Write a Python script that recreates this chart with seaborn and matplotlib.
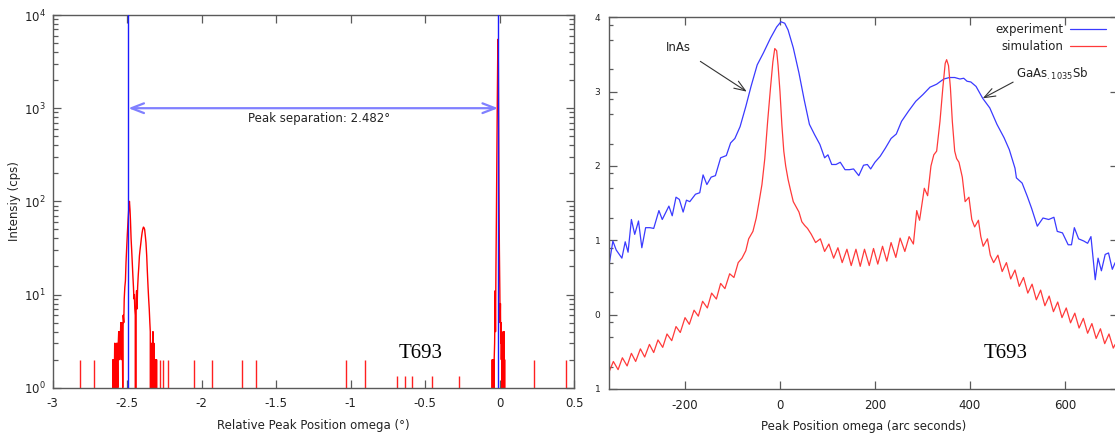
import matplotlib
matplotlib.use("Agg")
import matplotlib.pyplot as plt
import numpy as np
import pandas as pd
import seaborn as sns
from matplotlib.ticker import FixedLocator, FixedFormatter, LogLocator, NullFormatter, LogFormatterMathtext

# ---------------- left panel: omega scan, relative to the substrate peak ----------------
# layer / buffer peaks around -2.5 degrees (cps; 0 = no counts)
layer_deg = [-2.600, -2.596, -2.593, -2.590, -2.587, -2.584, -2.580, -2.577, -2.574, -2.570,
             -2.567, -2.563, -2.560, -2.557, -2.553, -2.550, -2.547, -2.543, -2.540, -2.537,
             -2.533, -2.530, -2.527, -2.523, -2.520, -2.516, -2.512, -2.508, -2.503, -2.499,
             -2.494, -2.489, -2.485, -2.481, -2.478, -2.474, -2.470, -2.466, -2.462, -2.458,
             -2.455, -2.452, -2.449, -2.446, -2.443, -2.440, -2.437, -2.434, -2.430, -2.426,
             -2.422, -2.418, -2.414, -2.409, -2.405, -2.400, -2.396, -2.391, -2.387, -2.383,
             -2.378, -2.374, -2.369, -2.365, -2.360, -2.356, -2.352, -2.348, -2.345, -2.342,
             -2.339, -2.336, -2.333, -2.330, -2.327, -2.324, -2.321, -2.318, -2.315, -2.312,
             -2.309, -2.306, -2.303, -2.300]
layer_cps = [0, 2, 0, 2, 1, 3, 0, 2, 3, 0,
             3, 1, 3, 4, 2, 4, 3, 5, 2, 5,
             4, 1, 6, 5, 9, 12, 14, 22, 33, 45,
             64, 85, 100, 80, 62, 40, 30, 22, 16, 12,
             9, 10, 7, 6, 0, 9, 11, 7, 12, 16,
             20, 26, 30, 35, 40, 46, 50, 53, 52, 50,
             42, 36, 26, 18, 12, 9, 7, 5, 4, 0,
             3, 2, 0, 3, 4, 0, 3, 1, 2, 0,
             2, 0, 2, 0]

# substrate peak near 0 degrees
substrate_deg = [-0.052, -0.049, -0.047, -0.045, -0.043, -0.041, -0.038, -0.036, -0.033, -0.031,
                 -0.029, -0.027, -0.024, -0.021, -0.018, -0.015, -0.012, -0.010, -0.008, -0.006,
                 -0.004, -0.001, 0.002, 0.004, 0.006, 0.008, 0.010, 0.012, 0.014, 0.016,
                 0.018, 0.020, 0.022, 0.024, 0.026, 0.028, 0.030, 0.032, 0.034, 0.036]
substrate_cps = [0, 2, 0, 2, 1, 2, 0, 2, 3, 6,
                 11, 4, 20, 70, 300, 1200, 4000, 5500, 3000, 800,
                 150, 30, 11, 5, 8, 3, 5, 2, 4, 1,
                 3, 0, 2, 0, 4, 1, 4, 0, 2, 0]

# isolated single-count background spikes
stray_deg = [-2.815, -2.725, -2.282, -2.262, -2.224, -2.049, -1.928, -1.728, -1.638,
             -1.029, -0.905, -0.690, -0.636, -0.587, -0.451, -0.271, 0.231, 0.449]
stray_cps = [2, 2, 2, 2, 2, 2, 2, 2, 2,
             2, 2, 1.35, 1.35, 1.35, 1.35, 1.35, 2, 2]

layer_peak_pos = -2.492
peak_separation = 2.482
left_xticks = [-3, -2.5, -2, -1.5, -1, -0.5, 0, 0.5]

# ---------------- right panel: log10 intensity, experiment vs simulation ----------------
exp_arcsec = [-360, -352, -345, -333, -326, -320, -313, -306, -298, -291, -283, -274, -266,
              -255, -248, -234, -227, -219, -212, -204, -197, -190, -178, -169, -162, -154,
              -145, -136, -125, -113, -104, -95, -84, -72, -61, -48, -35, -20, -7, 2, 10, 17,
              28, 40, 51, 62, 73, 84, 94, 101, 109, 118, 127, 137, 146, 155, 166, 176, 184,
              191, 200, 211, 222, 234, 245, 256, 271, 286, 301, 316, 330, 345, 357, 368, 379,
              387, 394, 402, 413, 427, 442, 457, 472, 483, 495, 498, 510, 521, 530, 542, 554,
              566, 577, 584, 595, 607, 614, 620, 629, 640, 648, 655, 664, 670, 677, 685, 692,
              700, 706]
exp_log = [0.67, 0.99, 0.87, 0.76, 0.98, 0.84, 1.28, 1.08, 1.26, 0.90, 1.17, 1.17, 1.16,
           1.40, 1.28, 1.46, 1.33, 1.58, 1.55, 1.38, 1.54, 1.52, 1.62, 1.64, 1.88, 1.75,
           1.85, 1.87, 2.11, 2.14, 2.31, 2.37, 2.53, 2.80, 3.07, 3.36, 3.52, 3.72, 3.87, 3.94,
           3.92, 3.83, 3.59, 3.25, 2.89, 2.56, 2.42, 2.29, 2.11, 2.15, 2.02, 2.02, 2.05, 1.95,
           1.95, 1.96, 1.87, 2.01, 2.02, 1.96, 2.05, 2.13, 2.24, 2.37, 2.43, 2.60, 2.74, 2.87,
           2.96, 3.06, 3.10, 3.17, 3.19, 3.19, 3.17, 3.18, 3.14, 3.13, 3.07, 2.91, 2.78, 2.56,
           2.38, 2.22, 1.97, 1.84, 1.77, 1.59, 1.43, 1.19, 1.30, 1.28, 1.31, 1.12, 1.10, 0.94,
           0.94, 1.17, 1.02, 0.99, 0.96, 1.05, 0.47, 0.76, 0.59, 0.81, 0.83, 0.61, 0.70]

sim_arcsec = [-360, -351, -341, -332, -322, -313, -304, -294, -285, -275, -266, -257, -247,
              -238, -228, -219, -210, -200, -191, -181, -172, -163, -153, -144, -134, -125,
              -116, -106, -97, -88, -80, -72, -66, -57, -50, -44, -38, -32, -26, -20, -15,
              -11, -7, -4, 0, 4, 8, 12, 17, 22, 28, 34, 40, 46, 52, 58, 66, 75, 85, 94, 103,
              113, 122, 131, 141, 150, 160, 169, 178, 188, 197, 206, 216, 225, 234, 244, 253,
              263, 272, 281, 288, 294, 304, 311, 318, 324, 330, 337, 343, 348, 351, 355, 359,
              363, 368, 372, 377, 384, 390, 398, 404, 410, 418, 423, 428, 437, 443, 450, 459,
              468, 477, 486, 495, 504, 513, 522, 531, 540, 549, 558, 567, 576, 585, 594, 603,
              612, 621, 630, 639, 648, 657, 666, 675, 684, 693, 702, 706]
sim_log = [-0.77, -0.63, -0.74, -0.58, -0.69, -0.52, -0.63, -0.46, -0.57, -0.40, -0.51, -0.34,
           -0.44, -0.26, -0.35, -0.16, -0.24, -0.04, -0.13, 0.06, -0.02, 0.18, 0.09, 0.29, 0.21,
           0.42, 0.35, 0.55, 0.50, 0.70, 0.76, 0.86, 1.02, 1.12, 1.30, 1.52, 1.75, 2.10, 2.60,
           3.05, 3.40, 3.58, 3.55, 3.35, 3.00, 2.55, 2.20, 2.00, 1.82, 1.68, 1.52, 1.45, 1.38,
           1.25, 1.20, 1.16, 1.08, 0.97, 1.02, 0.85, 0.95, 0.76, 0.90, 0.70, 0.88, 0.66, 0.88,
           0.65, 0.88, 0.66, 0.89, 0.68, 0.92, 0.72, 0.97, 0.77, 1.03, 0.85, 1.05, 0.95, 1.40,
           1.27, 1.70, 1.60, 2.00, 2.15, 2.20, 2.60, 3.05, 3.38, 3.43, 3.35, 3.05, 2.60, 2.20,
           2.10, 2.05, 1.85, 1.52, 1.58, 1.28, 1.18, 1.27, 1.05, 0.92, 1.02, 0.80, 0.70, 0.80,
           0.58, 0.70, 0.48, 0.60, 0.38, 0.50, 0.29, 0.41, 0.20, 0.33, 0.12, 0.25, 0.04, 0.17,
           -0.04, 0.09, -0.11, 0.02, -0.18, -0.05, -0.25, -0.12, -0.32, -0.19, -0.39, -0.26,
           -0.45, -0.40]

right_yticks = [-1, 0, 1, 2, 3, 4]
right_yticklabels = ["1", "0", "1", "2", "3", "4"]
right_yminor = [-0.7, -0.3, -0.1, 0.3, 0.7, 0.9, 1.3, 1.7, 1.9, 2.3, 2.7, 2.9, 3.3, 3.7, 3.9]
right_xticks = [-200, 0, 200, 400, 600]
series_names = ["experiment", "simulation"]

# ---------------- styling ----------------
sns.set_theme(style="ticks")
plt.rcParams["font.family"] = ["DejaVu Sans"]
plt.rcParams["axes.unicode_minus"] = False
plt.rcParams["mathtext.default"] = "regular"

frame_col = "#5a5a5a"
text_col = "#222222"

fig = plt.figure(figsize=(11.15, 4.38), dpi=100)
axL = fig.add_axes([0.0473, 0.1148, 0.4675, 0.8509])
axR = fig.add_axes([0.5460, 0.1119, 0.4567, 0.8486])
for ax in (axL, axR):
    ax.set_facecolor("white")
    for s in ax.spines.values():
        s.set_color(frame_col)
        s.set_linewidth(1.0)
    ax.tick_params(which="both", direction="in", color=frame_col, labelcolor=text_col,
                   top=True, right=True, width=0.9)

# ----- left panel -----
df_layer = pd.DataFrame({"deg": layer_deg, "cps": layer_cps})
df_sub = pd.DataFrame({"deg": substrate_deg, "cps": substrate_cps})
sns.lineplot(data=df_layer, x="deg", y="cps", sort=False, estimator=None,
             color="#ff0000", lw=1.0, ax=axL)
sns.lineplot(data=df_sub, x="deg", y="cps", sort=False, estimator=None,
             color="#ff0000", lw=1.0, ax=axL)
axL.vlines(stray_deg, 1, stray_cps, color="#ff2020", lw=1.0)
axL.set_yscale("log", nonpositive="clip")
axL.set_xlim(-3, 0.5)
axL.set_ylim(1, 1e4)

peak_right_pos = layer_peak_pos + peak_separation
axL.axvline(layer_peak_pos, color="#1a1aff", lw=1.0, zorder=3)
axL.axvline(peak_right_pos, color="#1a1aff", lw=1.0, zorder=3)
axL.annotate("", xy=(peak_right_pos, 1000), xytext=(layer_peak_pos, 1000),
             arrowprops=dict(arrowstyle="<->,head_length=0.9,head_width=0.35",
                             color="#8080ff", lw=1.6, shrinkA=0, shrinkB=0,
                             mutation_scale=10), zorder=4)
axL.text((layer_peak_pos + peak_right_pos) / 2 + 0.04, 770,
         f"Peak separation: {peak_separation:.3f}°",
         ha="center", va="center", fontsize=8.5, color=text_col)
axL.text(-0.527, 2.35, "T693", family=["Liberation Serif"], fontsize=15,
         ha="center", va="center", color="black")

axL.set_xticks(left_xticks)
axL.set_xticklabels([f"{t:g}" for t in left_xticks])
axL.yaxis.set_major_locator(LogLocator(base=10, numticks=10))
axL.yaxis.set_major_formatter(LogFormatterMathtext())
axL.yaxis.set_minor_locator(LogLocator(base=10, subs=np.arange(2, 10), numticks=10))
axL.yaxis.set_minor_formatter(NullFormatter())
axL.tick_params(which="major", length=6, labelsize=8.5, pad=5)
axL.tick_params(which="minor", length=3.5)
axL.tick_params(axis="x", pad=7)
axL.set_xlabel("Relative Peak Position omega (°)", fontsize=8.5, color=text_col, labelpad=6)
axL.set_ylabel("Intensiy (cps)", fontsize=8.5, color=text_col, labelpad=2)

# ----- right panel -----
df_exp = pd.DataFrame({"arcsec": exp_arcsec, "logI": exp_log, "series": series_names[0]})
df_sim = pd.DataFrame({"arcsec": sim_arcsec, "logI": sim_log, "series": series_names[1]})
df_right = pd.concat([df_exp, df_sim], ignore_index=True)
sns.lineplot(data=df_right, x="arcsec", y="logI", hue="series", sort=False, estimator=None,
             palette={series_names[0]: "#3a3aff", series_names[1]: "#ff3a3a"},
             lw=0.9, ax=axR)
axR.set_xlim(-360.6, 712)
axR.set_ylim(-1, 4)

leg = axR.legend(loc="upper right", bbox_to_anchor=(0.976, 0.985), frameon=False,
                 markerfirst=False, fontsize=8.5, handlelength=3.0, handletextpad=0.6,
                 labelspacing=0.35, borderpad=0, borderaxespad=0)
for t in leg.get_texts():
    t.set_color(text_col)

axR.annotate("InAs", xy=(-70, 3.0), xytext=(-214, 3.6), fontsize=8.5, color=text_col,
             ha="center", va="center",
             arrowprops=dict(arrowstyle="->,head_length=0.8,head_width=0.3", color="#333333",
                             lw=0.8, shrinkA=6, shrinkB=0, mutation_scale=10))
axR.annotate("GaAs$_{.1035}$Sb", xy=(427, 2.91), xytext=(498, 3.13), fontsize=8.5,
             color=text_col, ha="left", va="bottom",
             arrowprops=dict(arrowstyle="->,head_length=0.8,head_width=0.3", color="#333333",
                             lw=0.8, shrinkA=0, shrinkB=0, mutation_scale=10,
                             relpos=(0, 0.1)))
axR.text(476, -0.52, "T693", family=["Liberation Serif"], fontsize=15,
         ha="center", va="center", color="black")

axR.set_xticks(right_xticks)
axR.set_xticklabels([f"{t:g}" for t in right_xticks])
axR.yaxis.set_major_locator(FixedLocator(right_yticks))
axR.yaxis.set_major_formatter(FixedFormatter(right_yticklabels))
axR.yaxis.set_minor_locator(FixedLocator(right_yminor))
axR.tick_params(which="major", length=6)
axR.tick_params(which="minor", length=3, right=False)
axR.tick_params(axis="x", labelsize=8.5, pad=7)
axR.tick_params(axis="y", labelsize=6.5, pad=6)
axR.set_xlabel("Peak Position omega (arc seconds)", fontsize=8.5, color=text_col, labelpad=6)
axR.set_ylabel("")

fig.savefig("out.png", dpi=100, facecolor="white")
